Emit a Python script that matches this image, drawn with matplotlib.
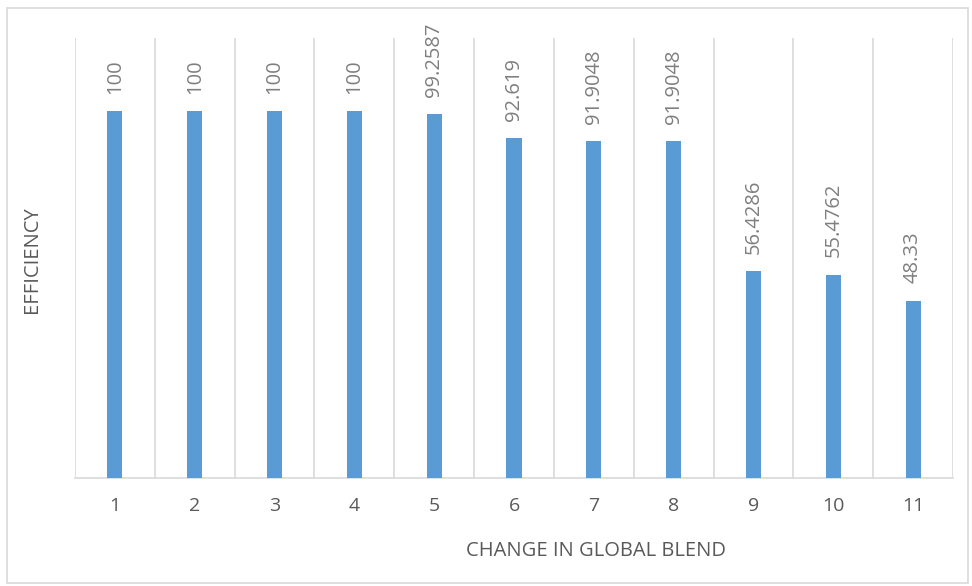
import matplotlib.pyplot as plt
from matplotlib.patches import Rectangle

categories = ['1', '2', '3', '4', '5', '6', '7', '8', '9', '10', '11']
efficiency = [100, 100, 100, 100, 99.2587, 92.619, 91.9048, 91.9048, 56.4286, 55.4762, 48.33]
value_labels = ['100', '100', '100', '100', '99.2587', '92.619', '91.9048', '91.9048',
                '56.4286', '55.4762', '48.33']

plt.rcParams['font.family'] = ['Open Sans', 'DejaVu Sans']

fig = plt.figure(figsize=(9.72, 5.86), dpi=100)
ax = fig.add_axes([75 / 972, 1 - 478 / 586, (953 - 75) / 972, (478 - 38) / 586])

x = list(range(len(categories)))
ax.bar(x, efficiency, width=0.19, color='#5B9BD5', zorder=3)

# value labels above each bar, rotated like the chart
for xi, v, lab in zip(x, efficiency, value_labels):
    ax.annotate(lab, (xi, v), xytext=(0, 12.5), textcoords='offset points',
                rotation=90, ha='center', va='bottom', fontsize=14.5, color='#7F7F7F')

ax.set_xlim(-0.5, len(categories) - 0.5)
ax.set_ylim(0, 120)

# vertical separators between categories
for b in range(len(categories) + 1):
    ax.axvline(b - 0.5, color='#D9D9D9', lw=1.2, zorder=1)

ax.set_xticks(x)
ax.set_xticklabels(categories, fontsize=14, color='#595959')
ax.tick_params(axis='x', length=0, pad=14)
ax.set_yticks([])
for s in ['top', 'right', 'left']:
    ax.spines[s].set_visible(False)
ax.spines['bottom'].set_color('#D9D9D9')
ax.spines['bottom'].set_linewidth(1.2)

fig.text(32 / 972, 1 - 260 / 586, 'EFFICIENCY', rotation=90, ha='center', va='center',
         fontsize=14.5, color='#595959')
fig.text(596 / 972, 1 - 551 / 586, 'CHANGE IN GLOBAL BLEND', ha='center', va='center',
         fontsize=14.5, color='#595959')

# chart area border
fig.patches.append(Rectangle((7 / 972, 3 / 586), 961 / 972, 575 / 586, transform=fig.transFigure,
                             fill=False, edgecolor='#D9D9D9', lw=1.2))

fig.savefig('out.png', dpi=100)
